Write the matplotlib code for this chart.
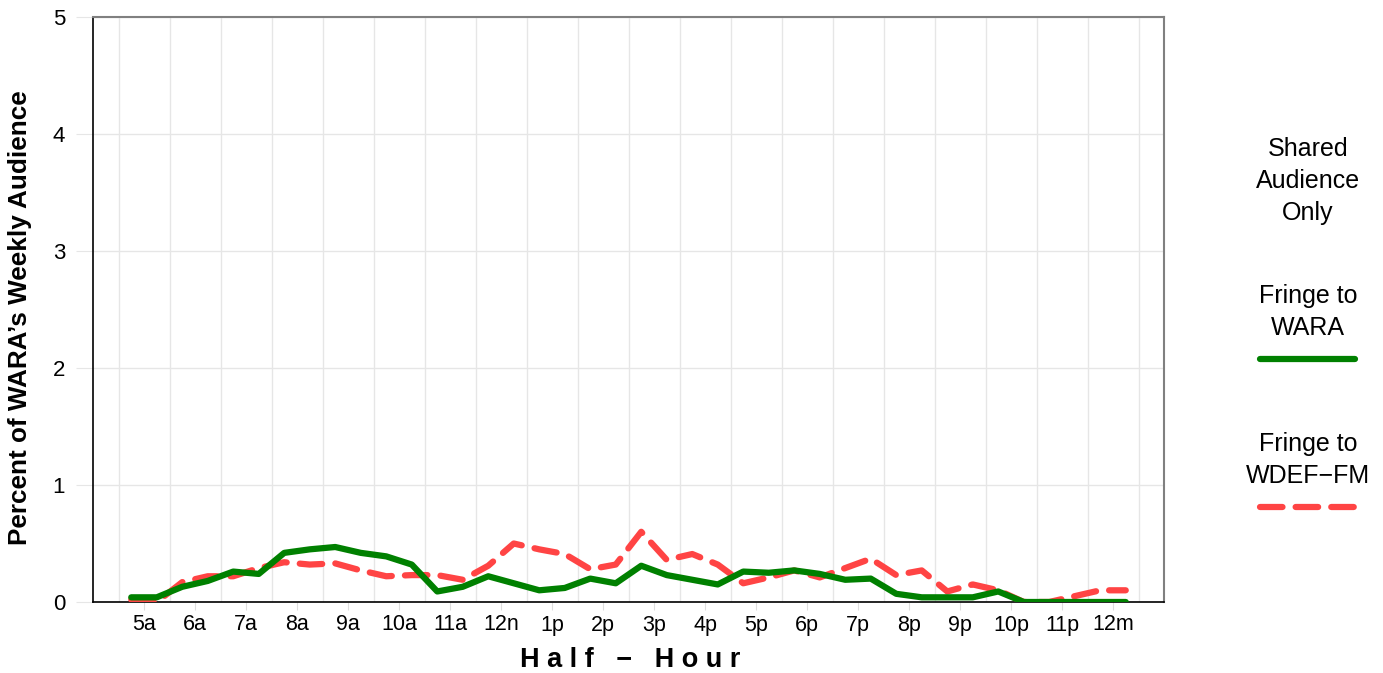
import matplotlib
matplotlib.use("Agg")
import matplotlib.pyplot as plt
from matplotlib.lines import Line2D

plt.rcParams['font.family'] = ['Liberation Sans', 'DejaVu Sans']

hour_labels = ["5a", "6a", "7a", "8a", "9a", "10a", "11a", "12n", "1p", "2p",
               "3p", "4p", "5p", "6p", "7p", "8p", "9p", "10p", "11p", "12m"]

fringe_wara = [0.04, 0.04, 0.13, 0.18, 0.26, 0.24, 0.42, 0.45, 0.47, 0.42,
               0.39, 0.32, 0.09, 0.13, 0.22, 0.16, 0.10, 0.12, 0.20, 0.16,
               0.31, 0.23, 0.19, 0.15, 0.26, 0.25, 0.27, 0.24, 0.19, 0.20,
               0.07, 0.04, 0.04, 0.04, 0.09, 0.0, 0.0, 0.0, 0.0, 0.0]

fringe_wdef = [0.02, 0.0, 0.17, 0.22, 0.22, 0.29, 0.34, 0.32, 0.33, 0.27,
               0.22, 0.23, 0.23, 0.19, 0.31, 0.50, 0.45, 0.41, 0.28, 0.32,
               0.60, 0.36, 0.41, 0.32, 0.16, 0.21, 0.27, 0.21, 0.29, 0.37,
               0.23, 0.27, 0.09, 0.15, 0.10, 0.0, 0.0, 0.05, 0.10, 0.10]

x = list(range(len(fringe_wara)))
green = "#008000"
red = "#FF4444"

fig = plt.figure(figsize=(13.83, 6.73), dpi=100)
ax = fig.add_axes([93/1383, 1 - 602/673, (1164-93)/1383, (602-17)/673])

ax.plot(x, fringe_wdef, color=red, lw=4.5, dashes=(3.6, 2.1), solid_capstyle='round',
        dash_capstyle='round', zorder=3)
ax.plot(x, fringe_wara, color=green, lw=4.5, solid_capstyle='round', zorder=4)

ax.set_xlim(-1.5, 40.5)
ax.set_ylim(0, 5)

tick_pos = [2*i + 0.5 for i in range(len(hour_labels))]
ax.set_xticks(tick_pos)
ax.set_xticklabels(hour_labels, fontsize=15.5)
ax.set_xticks([2*i - 0.5 for i in range(len(hour_labels) + 1)], minor=True)
ax.tick_params(axis='x', which='major', length=6, color='#dddddd', pad=3)
ax.tick_params(axis='x', which='minor', length=0)
ax.set_yticks([0, 1, 2, 3, 4, 5])
ax.set_yticklabels(["0", "1", "2", "3", "4", "5"], fontsize=16)
ax.tick_params(axis='y', length=12, color='#e6e6e6', pad=8)

ax.grid(True, which='minor', axis='x', color='#e6e6e6', lw=1)
ax.grid(True, which='major', axis='y', color='#e6e6e6', lw=1)
ax.set_axisbelow(True)

for s in ['left', 'bottom']:
    ax.spines[s].set_color('black')
    ax.spines[s].set_linewidth(1.2)
for s in ['top', 'right']:
    ax.spines[s].set_color('#808080')
    ax.spines[s].set_linewidth(1.5)

fig.text(20/1383, 1 - 318/673, "Percent of WARA’s Weekly Audience", fontsize=18.8,
         fontweight='bold', rotation=90, ha='center', va='center')
fig.text(630/1383, 1 - 660/673, "H a l f   −   H o u r", fontsize=19.5, fontweight='bold',
         ha='center', va='center')

# legend
lx = 1308/1383
fig.text(lx, 1 - 181/673, "Shared\nAudience\nOnly", fontsize=18, ha='center', va='center',
         linespacing=1.42)
fig.text(lx, 1 - 312/673, "Fringe to\nWARA", fontsize=18, ha='center', va='center',
         linespacing=1.42)
fig.text(lx, 1 - 460/673, "Fringe to\nWDEF−FM", fontsize=18, ha='center', va='center',
         linespacing=1.42)
fig.add_artist(Line2D([1260/1383, 1355/1383], [1 - 359/673, 1 - 359/673], color=green,
                      lw=4.5, solid_capstyle='round', transform=fig.transFigure))
fig.add_artist(Line2D([1260/1383, 1355/1383], [1 - 507/673, 1 - 507/673], color=red,
                      lw=4.5, dashes=(3.6, 2.1), dash_capstyle='round', transform=fig.transFigure))

fig.savefig("out.png", dpi=100)
